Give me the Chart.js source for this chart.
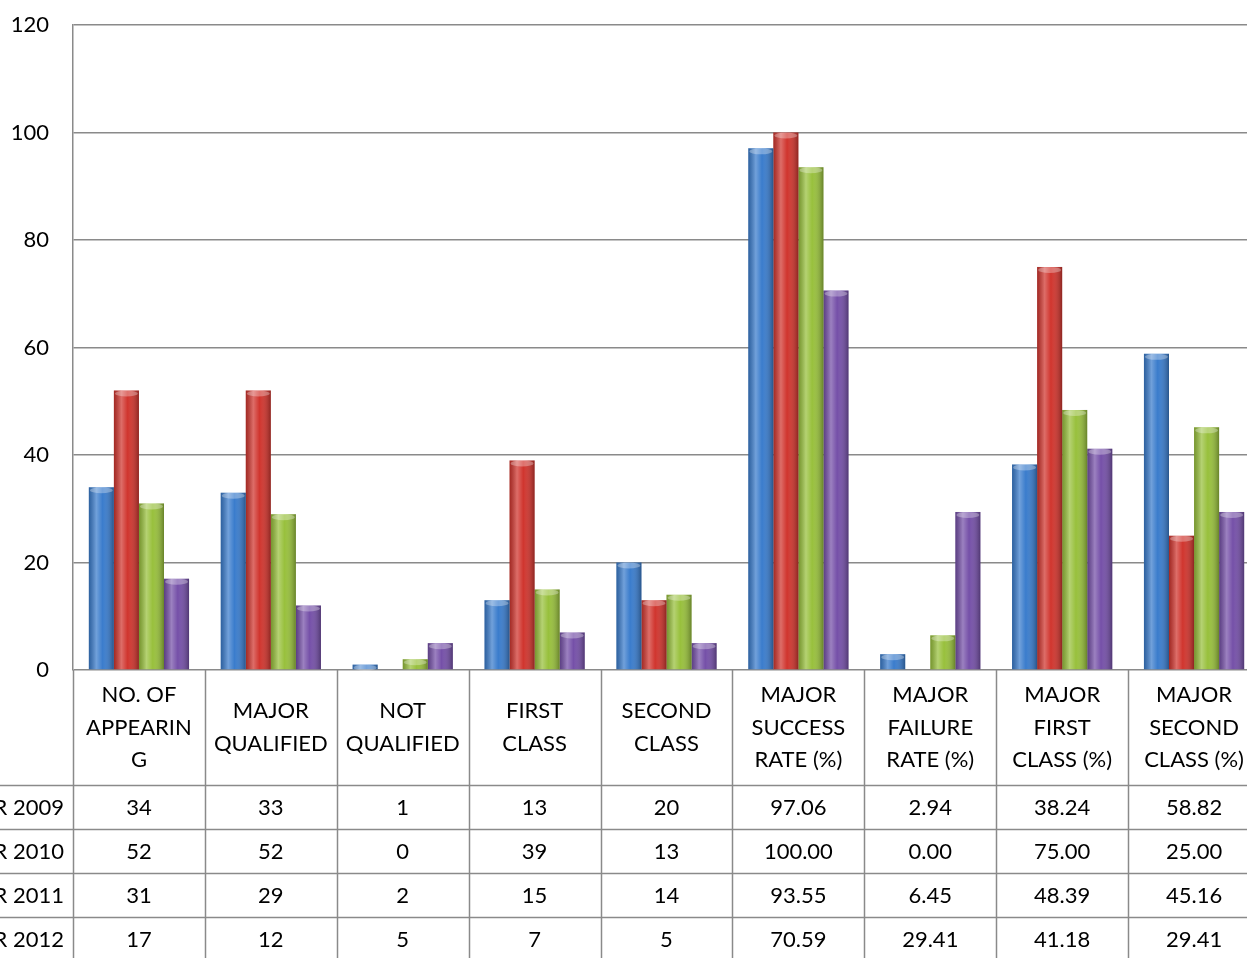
<!DOCTYPE html>
<html>
<head>
<meta charset="utf-8">
<script src="https://cdn.jsdelivr.net/npm/chart.js@4"></script>
<style>
  html, body { margin: 0; padding: 0; background: #fff; overflow: hidden; }
  #wrap { width: 1260px; height: 958px; }
</style>
</head>
<body>
<div id="wrap"><canvas id="resultChart" width="1260" height="958"></canvas></div>
<script>
// column headers, already split the way the table wraps them
const headers = [
    ['NO. OF', 'APPEARIN', 'G'],
    ['MAJOR', 'QUALIFIED'],
    ['NOT', 'QUALIFIED'],
    ['FIRST', 'CLASS'],
    ['SECOND', 'CLASS'],
    ['MAJOR', 'SUCCESS', 'RATE (%)'],
    ['MAJOR', 'FAILURE', 'RATE (%)'],
    ['MAJOR', 'FIRST', 'CLASS (%)'],
    ['MAJOR', 'SECOND', 'CLASS (%)']
];
const decimals = [0, 0, 0, 0, 0, 2, 2, 2, 2];

const years = ['YEAR 2009', 'YEAR 2010', 'YEAR 2011', 'YEAR 2012'];
const year2009 = [34, 33, 1, 13, 20, 97.06, 2.94, 38.24, 58.82];
const year2010 = [52, 52, 0, 39, 13, 100.00, 0.00, 75.00, 25.00];
const year2011 = [31, 29, 2, 15, 14, 93.55, 6.45, 48.39, 45.16];
const year2012 = [17, 12, 5, 7, 5, 70.59, 29.41, 41.18, 29.41];

const yTicks = [0, 20, 40, 60, 80, 100, 120];
const colors = ['#3a7ccc', '#d0352e', '#98c03c', '#7550a8'];

const FONT = 'Lato, "Open Sans", sans-serif';
const LINE = '#8a8a8a';

// cylinder-ish shading on each bar
const shade = {
    id: 'shade',
    afterDatasetsDraw(chart) {
        const ctx = chart.ctx;
        chart.data.datasets.forEach((ds, di) => {
            chart.getDatasetMeta(di).data.forEach(el => {
                const p = el.getProps(['x', 'y', 'base', 'width'], true);
                const h = p.base - p.y;
                if (h < 0.5) return;
                const left = p.x - p.width / 2;
                const g = ctx.createLinearGradient(left, 0, left + p.width, 0);
                g.addColorStop(0, 'rgba(0,0,0,0.22)');
                g.addColorStop(0.3, 'rgba(255,255,255,0.28)');
                g.addColorStop(0.55, 'rgba(255,255,255,0)');
                g.addColorStop(1, 'rgba(0,0,0,0.32)');
                ctx.save();
                ctx.fillStyle = g;
                ctx.fillRect(left, p.y, p.width, h);
                if (h > 4) {
                    ctx.beginPath();
                    ctx.ellipse(p.x, p.y + 3, p.width / 2 - 1, 3, 0, 0, Math.PI * 2);
                    ctx.fillStyle = 'rgba(255,255,255,0.3)';
                    ctx.fill();
                }
                ctx.restore();
            });
        });
    }
};

// data table under the plot
const table = {
    id: 'table',
    afterDraw(chart) {
        const ctx = chart.ctx;
        const x = chart.scales.x;
        const area = chart.chartArea;
        const colW = x.width / headers.length;
        const headH = 115, rowH = 44;
        const bottom = chart.height;
        ctx.save();
        ctx.strokeStyle = LINE;
        ctx.lineWidth = 1.5;
        // vertical lines
        for (let i = 0; i <= headers.length; i++) {
            const vx = Math.round(x.left + i * colW) + 0.5;
            ctx.beginPath();
            ctx.moveTo(vx, area.bottom);
            ctx.lineTo(vx, bottom);
            ctx.stroke();
        }
        // horizontal lines
        for (let r = 0; r <= years.length; r++) {
            const hy = Math.round(area.bottom + headH + r * rowH) + 0.5;
            ctx.beginPath();
            ctx.moveTo(0, hy);
            ctx.lineTo(chart.width, hy);
            ctx.stroke();
        }
        ctx.fillStyle = '#000';
        ctx.font = '22px ' + FONT;
        ctx.textAlign = 'center';
        ctx.textBaseline = 'middle';
        const headMid = area.bottom + headH / 2;
        headers.forEach((lines, i) => {
            const cx = x.getPixelForValue(i);
            lines.forEach((t, k) => {
                ctx.fillText(t, cx, headMid + (k - (lines.length - 1) / 2) * 32.5);
            });
        });
        const series = [year2009, year2010, year2011, year2012];
        series.forEach((vals, r) => {
            const cy = area.bottom + headH + r * rowH + rowH / 2 + 1;
            ctx.textAlign = 'right';
            ctx.fillText(years[r], x.left - 9, cy);
            ctx.textAlign = 'center';
            vals.forEach((v, i) => {
                ctx.fillText(v.toFixed(decimals[i]), x.getPixelForValue(i), cy);
            });
        });
        ctx.restore();
    }
};

const series = [year2009, year2010, year2011, year2012];
new Chart(document.getElementById('resultChart'), {
    type: 'bar',
    data: {
        labels: headers.map(h => h.join(' ')),
        datasets: series.map((vals, i) => ({
            label: years[i],
            data: vals,
            backgroundColor: colors[i],
            borderWidth: 0,
            categoryPercentage: 0.76,
            barPercentage: 1.0
        }))
    },
    options: {
        responsive: false,
        animation: false,
        layout: { padding: { top: 25, bottom: 288, left: 0, right: 0 } },
        plugins: { legend: { display: false }, tooltip: { enabled: false } },
        scales: {
            x: { display: false },
            y: {
                min: 0,
                max: 120,
                afterBuildTicks: s => { s.ticks = yTicks.map(v => ({ value: v })); },
                afterFit: s => { s.width = 73; },
                // invisible tick marks give the gap between labels and axis
                grid: { color: LINE, lineWidth: 1.5, drawTicks: true, tickLength: 24, tickColor: 'rgba(0,0,0,0)' },
                border: { display: true, color: LINE, width: 1.5 },
                ticks: {
                    padding: 0,
                    color: '#000',
                    font: { family: FONT, size: 22 }
                }
            }
        }
    },
    plugins: [shade, table]
});
</script>
</body>
</html>
